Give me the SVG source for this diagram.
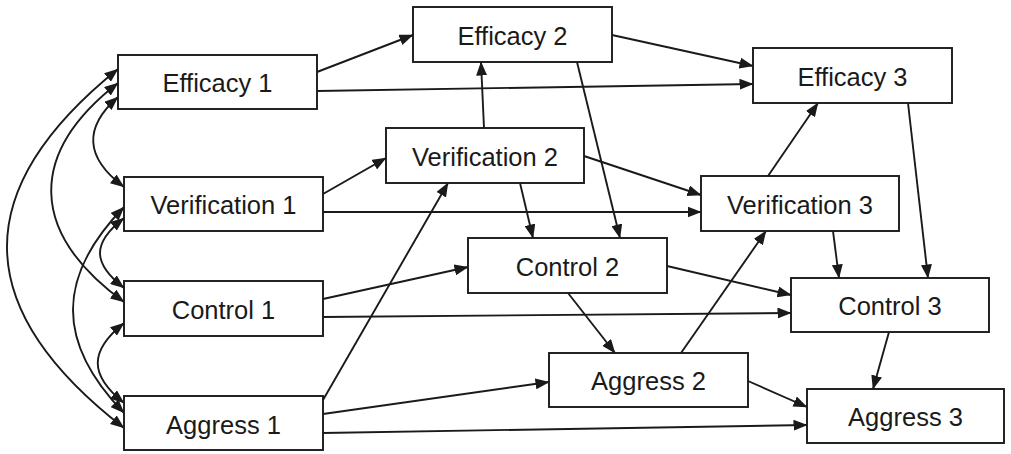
<svg xmlns="http://www.w3.org/2000/svg" width="1011" height="454" viewBox="0 0 1011 454">
<style>
.box{fill:#fff;stroke:#1a1a1a;stroke-width:1.9}
.lbl{font-family:"Liberation Sans",Arial,sans-serif;font-size:25.5px;fill:#1a1a1a;text-anchor:middle}
.e{fill:none;stroke:#1a1a1a;stroke-width:1.9;marker-end:url(#ah)}
.c{fill:none;stroke:#1a1a1a;stroke-width:1.9;marker-start:url(#ah);marker-end:url(#ah)}
</style>
<defs>
<marker id="ah" markerUnits="userSpaceOnUse" viewBox="0 0 14 11" refX="13.5" refY="5.5" markerWidth="14" markerHeight="11" orient="auto-start-reverse">
<path d="M0,0 L14,5.5 L0,11 z" fill="#1a1a1a"/>
</marker>
</defs>
<rect width="1011" height="454" fill="#fff"/>
<g id="connectors">
<path class="c" d="M118,97 C84,127 84,157 124,187"/>
<path class="c" d="M124,218 C92,243 92,263 124,288"/>
<path class="c" d="M124,323 C89,351 89,375 124,403"/>
<path class="c" d="M118,83 C28,153 28,232 124,302"/>
<path class="c" d="M124,207 C56,277 56,343 124,413"/>
<path class="c" d="M118,69 C-31,189 -31,308 124,428"/>
<path class="e" d="M317,72 L413,35"/>
<path class="e" d="M317,91 L753,84"/>
<path class="e" d="M612,35 L753,66"/>
<path class="e" d="M484,128 L481,62"/>
<path class="e" d="M577,62 L620,238"/>
<path class="e" d="M323,194 L386,158"/>
<path class="e" d="M323,212 L701,212"/>
<path class="e" d="M584,156 L701,195"/>
<path class="e" d="M520,183 L533,238"/>
<path class="e" d="M768,176 L818,103"/>
<path class="e" d="M833,231 L839,278"/>
<path class="e" d="M908,103 L928,278"/>
<path class="e" d="M323,299 L468,267"/>
<path class="e" d="M323,317 L791,313"/>
<path class="e" d="M667,266 L791,295"/>
<path class="e" d="M568,293 L615,353"/>
<path class="e" d="M323,400 L448,183"/>
<path class="e" d="M323,414 L549,382"/>
<path class="e" d="M323,433 L807,425"/>
<path class="e" d="M681,353 L766,231"/>
<path class="e" d="M748,381 L807,407"/>
<path class="e" d="M889,332 L873,389"/>
</g>
<g id="efficacy1"><rect class="box" x="118" y="55" width="199" height="54"/><text class="lbl" x="217.5" y="92">Efficacy 1</text></g>
<g id="verification1"><rect class="box" x="124" y="177" width="199" height="54"/><text class="lbl" x="223.5" y="214">Verification 1</text></g>
<g id="control1"><rect class="box" x="124" y="281" width="199" height="55"/><text class="lbl" x="223.5" y="318.5">Control 1</text></g>
<g id="aggress1"><rect class="box" x="124" y="396" width="199" height="54"/><text class="lbl" x="223.5" y="434">Aggress 1</text></g>
<g id="efficacy2"><rect class="box" x="413" y="7" width="199" height="55"/><text class="lbl" x="512.5" y="45">Efficacy 2</text></g>
<g id="verification2"><rect class="box" x="386" y="128" width="198" height="55"/><text class="lbl" x="485" y="166">Verification 2</text></g>
<g id="control2"><rect class="box" x="468" y="238" width="199" height="55"/><text class="lbl" x="567.5" y="276">Control 2</text></g>
<g id="aggress2"><rect class="box" x="549" y="353" width="199" height="54"/><text class="lbl" x="648.5" y="390">Aggress 2</text></g>
<g id="efficacy3"><rect class="box" x="753" y="48" width="199" height="55"/><text class="lbl" x="852.5" y="86">Efficacy 3</text></g>
<g id="verification3"><rect class="box" x="701" y="176" width="198" height="55"/><text class="lbl" x="800" y="214">Verification 3</text></g>
<g id="control3"><rect class="box" x="791" y="278" width="198" height="54"/><text class="lbl" x="890" y="315">Control 3</text></g>
<g id="aggress3"><rect class="box" x="807" y="389" width="197" height="54"/><text class="lbl" x="905.5" y="426">Aggress 3</text></g>
</svg>
